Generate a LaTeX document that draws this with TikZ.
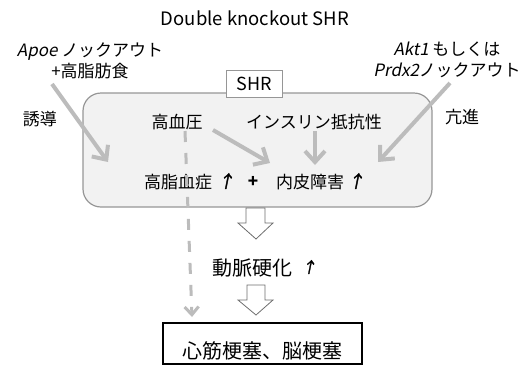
\documentclass[tikz,border=0pt]{standalone}
\usepackage{fontspec}
\setmainfont{Noto Sans CJK JP}
\newfontfamily\slantjp{Noto Sans CJK JP}[FakeSlant=0.2]
\newfontfamily\uparrowfont{Noto Sans CJK JP}[FakeSlant=0.2,FakeBold=2]
\usetikzlibrary{arrows.meta}
\definecolor{arrowgray}{RGB}{188,188,188}
\definecolor{boxfill}{RGB}{242,242,242}
\definecolor{boxline}{RGB}{150,150,150}
\definecolor{blockline}{RGB}{110,110,110}
\tikzset{
  lbl/.style={inner sep=0pt, font=\fontsize{17}{21}\selectfont, align=center},
  bigl/.style={inner sep=0pt, font=\fontsize{20}{24}\selectfont},
  uparr/.style={inner sep=0pt, font=\fontsize{17}{21}\selectfont\uparrowfont},
  grayarrow/.style={draw=arrowgray, line width=4pt, -{Straight Barb[length=11pt,width=20pt]}},
  dasharrow/.style={draw=arrowgray, line width=3pt, dash pattern=on 11pt off 11pt, -{Straight Barb[length=8pt,width=14pt]}},
  blockarrow/.style={draw=blockline, fill=white, line width=0.8pt, line join=miter},
}
\begin{document}
\begin{tikzpicture}[x=1pt,y=-1pt]
\useasboundingbox (0,0) rectangle (528,365);
% title
\node[inner sep=0pt, font=\fontsize{18.5}{22}\selectfont] (title) at (255,18) {Double knockout SHR};
% main rounded box
\node[draw=boxline, fill=boxfill, line width=1.2pt, rounded corners=18pt,
      minimum width=349pt, minimum height=114pt, inner sep=0pt] (shrbox) at (257.5,150) {};
\node[draw=boxline, fill=white, line width=1pt, minimum width=56pt, minimum height=27pt,
      inner sep=0pt, font=\fontsize{18}{20}\selectfont] (shr) at (254,84) {SHR};
% outer labels
\node[lbl] (apoe) at (90,61) {{\slantjp Apoe} ノックアウト\\+高脂肪食};
\node[lbl] (akt) at (447,60) {{\slantjp Akt1} もしくは\\{\slantjp Prdx2}ノックアウト};
\node[lbl] (yudo) at (40,119) {誘導};
\node[lbl] (koshin) at (462,117) {亢進};
% inside labels
\node[lbl] (hbp) at (177,122) {高血圧};
\node[lbl] (ins) at (314,122) {インスリン抵抗性};
\node[lbl] (lip) at (178,182) {高脂血症};
\node[uparr] (up1) at (226,181) {↑};
\node[lbl] (plus) at (253,182) {\textbf{+}};
\node[lbl] (endo) at (310,182) {内皮障害};
\node[uparr] (up2) at (356,181) {↑};
% lower labels
\node[bigl] (athero) at (252,268) {動脈硬化};
\node[uparr, font=\fontsize{15}{18}\selectfont\uparrowfont] (up3) at (309,267) {↑};
\node[draw=black, line width=1.5pt, minimum width=199pt, minimum height=41pt, inner sep=0pt] (mi) at (262.5,343.5) {};
\node[bigl] (mitext) at ([yshift=-7pt]mi.center) {心筋梗塞、脳梗塞};
% gray arrows
\coordinate (a1s) at (52,84);   \coordinate (a1e) at (108,162);
\coordinate (a2s) at (450,83);  \coordinate (a2e) at (378,162);
\coordinate (a3s) at (213,130); \coordinate (a3e) at (270,163);
\coordinate (a4s) at (315,131); \coordinate (a4e) at (315,165);
\coordinate (ds) at (185,131);  \coordinate (de) at (192,317);
\draw[grayarrow] (a1s) -- (a1e);
\draw[grayarrow] (a2s) -- (a2e);
\draw[grayarrow] (a3s) -- (a3e);
\draw[grayarrow] (a4s) -- (a4e);
\draw[dasharrow] (ds) -- (de);
% block arrows
\draw[blockarrow] (246,208) -- (265,208) -- (265,223) -- (273,223) -- (256,239) -- (238,223) -- (246,223) -- cycle;
\draw[blockarrow] (247,285) -- (265,285) -- (265,300) -- (273,300) -- (256,315) -- (238,300) -- (247,300) -- cycle;
\end{tikzpicture}
\end{document}
